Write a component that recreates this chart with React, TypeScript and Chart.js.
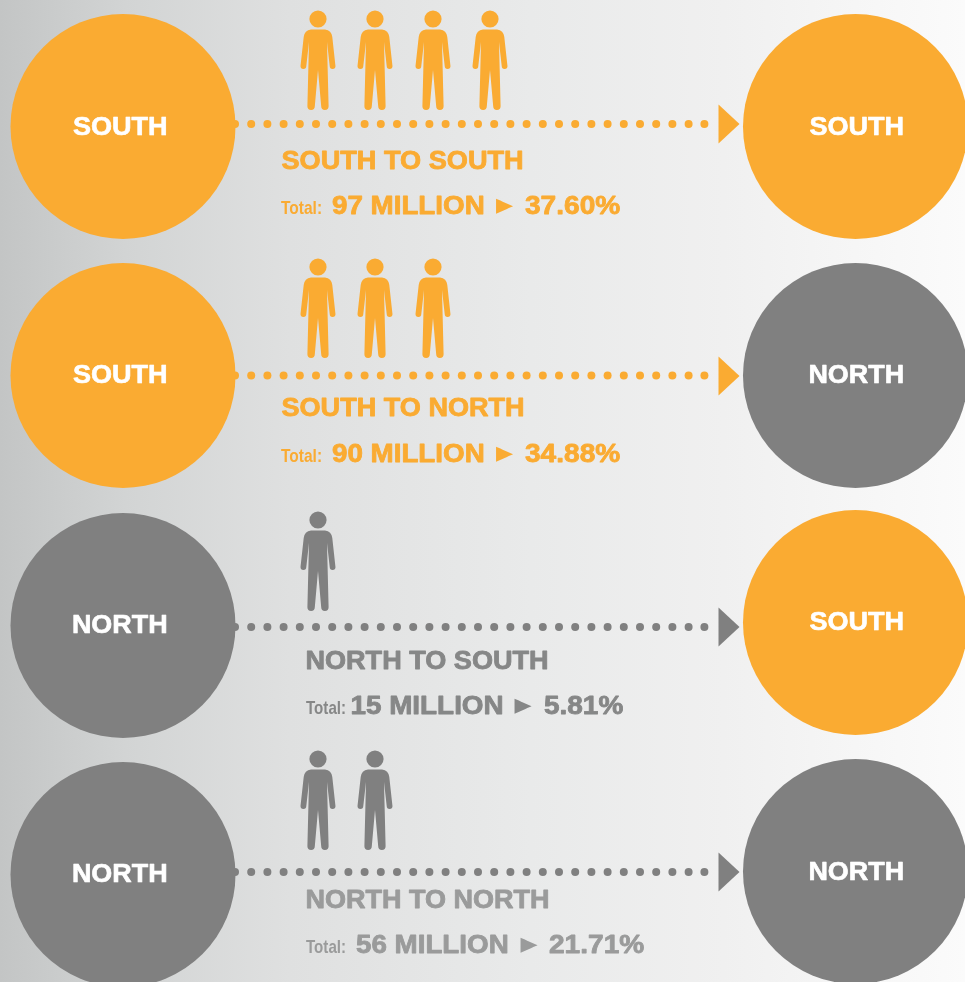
import React, { useEffect, useRef } from "react";
import { Chart, registerables } from "chart.js";

Chart.register(...registerables);

const ORANGE = "#FAAB32";
const GREY = "#808080";
const GREY_TEXT = "#868787";
const GREY_LIGHT = "#9A9B9B";

const rowRegionsFrom = ["SOUTH", "SOUTH", "NORTH", "NORTH"];
const rowRegionsTo = ["SOUTH", "NORTH", "SOUTH", "NORTH"];
const rowTitles = ["SOUTH TO SOUTH", "SOUTH TO NORTH", "NORTH TO SOUTH", "NORTH TO NORTH"];
const rowAmounts = ["97 MILLION", "90 MILLION", "15 MILLION", "56 MILLION"];
const rowShares = ["37.60%", "34.88%", "5.81%", "21.71%"];
const peopleCounts = [4, 3, 1, 2];
const totalLabel = "Total:";
const arrowGlyph = "\u25BA";

const leftCircleX = [123, 123, 123, 123];
const leftCircleY = [126.5, 375.5, 625.5, 874.5];
const rightCircleX = [855.5, 855.5, 855.5, 855.5];
const rightCircleY = [126.5, 375.5, 622.5, 871.5];
const leftLabelY = [134.5, 382.5, 632.5, 881.5];
const rightLabelY = [134.5, 382.5, 629.5, 879.5];
const dotRowY = [124, 375.5, 627, 872];
const dotX = [235, 251.2, 267.4, 283.6, 299.8, 316, 332.2, 348.4, 364.6, 380.8, 397, 413.2, 429.4, 445.6, 461.8, 478, 494.2, 510.4, 526.6, 542.8, 559, 575.2, 591.4, 607.6, 623.8, 640, 656.2, 672.4, 688.6, 704.4];
const arrowX = [729, 729, 729, 729];
const arrowY = [124, 376, 627, 872];
const personSlotX = [318, 375, 433, 490];
const personRowY = [61, 309, 562, 801];

const titleX = [281.5, 281.5, 306.5, 306.5];
const titleBase = [168.5, 415.5, 668.5, 908];
const titleW = [241, 242, 241, 242];
const totalX = [281, 281, 306, 306];
const totalW = [40, 40, 39, 39];
const amountX = [332, 332, 351.5, 356];
const amountW = [151.5, 151.5, 151, 151.5];
const arrowTextX = [496, 496, 514.5, 520.5];
const shareX = [525, 525, 544, 549];
const shareW = [95, 95, 79, 95];
const totalBase = [214, 462, 714, 953];
const textColors = [ORANGE, ORANGE, GREY_TEXT, GREY_LIGHT];

const regionColor = (r: string) => (r === "SOUTH" ? ORANGE : GREY);

function personImage(color: string) {
  const c = document.createElement("canvas");
  c.width = 40;
  c.height = 102;
  const g = c.getContext("2d")!;
  g.fillStyle = color;
  const cx = 20;
  g.beginPath();
  g.arc(cx, 9, 8.6, 0, Math.PI * 2);
  g.fill();
  g.beginPath();
  g.moveTo(cx, 19.4);
  g.lineTo(cx + 7, 19.4);
  g.quadraticCurveTo(cx + 13.5, 20, cx + 14.3, 27);
  g.lineTo(cx + 17.4, 55.5);
  g.arc(cx + 14.6, 56, 2.9, 0, Math.PI);
  g.lineTo(cx + 9, 32);
  g.lineTo(cx + 10.6, 96.2);
  g.arc(cx + 6.9, 96.2, 3.7, 0, Math.PI);
  g.lineTo(cx, 60);
  g.lineTo(cx - 3.2, 96.2);
  g.arc(cx - 6.9, 96.2, 3.7, 0, Math.PI);
  g.lineTo(cx - 9, 32);
  g.lineTo(cx - 11.7, 56);
  g.arc(cx - 14.6, 56, 2.9, 0, Math.PI);
  g.lineTo(cx - 14.3, 27);
  g.quadraticCurveTo(cx - 13.5, 20, cx - 7, 19.4);
  g.closePath();
  g.fill();
  return c;
}

function arrowImage(color: string) {
  const c = document.createElement("canvas");
  c.width = 22;
  c.height = 40;
  const g = c.getContext("2d")!;
  g.fillStyle = color;
  g.beginPath();
  g.moveTo(0.5, 0.5);
  g.lineTo(21.5, 20);
  g.lineTo(0.5, 39.5);
  g.closePath();
  g.fill();
  return c;
}

function inkText(
  ctx: CanvasRenderingContext2D,
  text: string,
  x: number,
  base: number,
  font: string,
  color: string,
  width: number,
  stroke = 0,
  sitOnBase = false
) {
  ctx.save();
  ctx.font = font;
  ctx.textAlign = "left";
  ctx.textBaseline = "alphabetic";
  const m = ctx.measureText(text);
  const ink = m.actualBoundingBoxLeft + m.actualBoundingBoxRight;
  const k = width / ink;
  const dy = sitOnBase ? -m.actualBoundingBoxDescent : 0;
  ctx.translate(x, base + dy);
  ctx.scale(k, 1);
  ctx.fillStyle = color;
  ctx.fillText(text, m.actualBoundingBoxLeft, 0);
  if (stroke > 0) {
    ctx.strokeStyle = color;
    ctx.lineWidth = stroke;
    ctx.lineJoin = "round";
    ctx.strokeText(text, m.actualBoundingBoxLeft, 0);
  }
  ctx.restore();
}

const backdrop = {
  id: "backdrop",
  beforeDraw(chart: any) {
    const { ctx, scales } = chart;
    const x0 = scales.x.getPixelForValue(0);
    const x1 = scales.x.getPixelForValue(965);
    const g = ctx.createLinearGradient(x0, 0, x1, 0);
    g.addColorStop(0, "#C3C5C5");
    g.addColorStop(0.13, "#D2D4D4");
    g.addColorStop(0.3, "#DFE0E0");
    g.addColorStop(0.55, "#E9EAEA");
    g.addColorStop(0.75, "#F0F0F0");
    g.addColorStop(1, "#FBFBFB");
    ctx.save();
    ctx.fillStyle = g;
    ctx.fillRect(0, 0, chart.width, chart.height);
    ctx.restore();
  },
};

const labels = {
  id: "labels",
  afterDatasetsDraw(chart: any) {
    const { ctx, scales } = chart;
    const px = (v: number) => scales.x.getPixelForValue(v);
    const py = (v: number) => scales.y.getPixelForValue(v);
    const SANS = '"Liberation Sans", Arial, sans-serif';
    const NARROW = '"Liberation Sans Narrow", "Liberation Sans", sans-serif';
    rowTitles.forEach((title, i) => {
      const color = textColors[i];
      inkText(ctx, rowRegionsFrom[i], px(73), py(leftLabelY[i]), `bold 25px ${SANS}`, "#FFFFFF", 93.5, 0.6);
      inkText(ctx, rowRegionsTo[i], px(809.5), py(rightLabelY[i]), `bold 25px ${SANS}`, "#FFFFFF", 93.5, 0.6);
      inkText(ctx, title, px(titleX[i]), py(titleBase[i]), `bold 25px ${SANS}`, color, titleW[i], 0.8);
      inkText(ctx, totalLabel, px(totalX[i]), py(totalBase[i]), `bold 19px ${NARROW}`, color, totalW[i]);
      inkText(ctx, rowAmounts[i], px(amountX[i]), py(totalBase[i]), `bold 25px ${SANS}`, color, amountW[i], 0.8);
      inkText(ctx, arrowGlyph, px(arrowTextX[i]), py(totalBase[i] - 0.5), `bold 30px "DejaVu Sans", sans-serif`, color, 17, 0, true);
      inkText(ctx, rowShares[i], px(shareX[i]), py(totalBase[i]), `bold 25px ${SANS}`, color, shareW[i], 0.8);
    });
  },
};

export default function App() {
  const ref = useRef<HTMLCanvasElement>(null);
  useEffect(() => {
    const orangeP = personImage(ORANGE);
    const greyP = personImage(GREY);
    const orangeA = arrowImage(ORANGE);
    const greyA = arrowImage(GREY);

    const base = { showLine: false, clip: false as any, pointBorderWidth: 0 };
    const datasets: any[] = [];
    dotRowY.forEach((y, i) => {
      datasets.push({
        ...base,
        label: rowTitles[i] + " path",
        data: dotX.map((x) => ({ x, y })),
        pointRadius: 4,
        pointBackgroundColor: regionColor(rowRegionsFrom[i]),
        order: 5,
      });
    });
    datasets.push({
      ...base,
      label: "Origin",
      data: leftCircleX.map((x, i) => ({ x, y: leftCircleY[i] })),
      pointRadius: 112.5,
      pointBackgroundColor: rowRegionsFrom.map(regionColor),
      order: 2,
    });
    datasets.push({
      ...base,
      label: "Destination",
      data: rightCircleX.map((x, i) => ({ x, y: rightCircleY[i] })),
      pointRadius: 112.5,
      pointBackgroundColor: rowRegionsTo.map(regionColor),
      order: 2,
    });
    datasets.push({
      ...base,
      label: "Arrows",
      data: arrowX.map((x, i) => ({ x, y: arrowY[i] })),
      pointStyle: rowRegionsFrom.map((r) => (r === "SOUTH" ? orangeA : greyA)),
      order: 1,
    });
    peopleCounts.forEach((count, i) => {
      datasets.push({
        ...base,
        label: rowTitles[i] + " people",
        data: personSlotX.slice(0, count).map((x) => ({ x, y: personRowY[i] })),
        pointStyle: rowRegionsFrom[i] === "SOUTH" ? orangeP : greyP,
        order: 1,
      });
    });

    const chart = new Chart(ref.current!, {
      type: "scatter",
      data: { datasets },
      options: {
        animation: false,
        responsive: false,
        layout: { padding: 0, autoPadding: false },
        events: [],
        plugins: { legend: { display: false }, tooltip: { enabled: false } },
        scales: {
          x: { type: "linear", min: 0, max: 965, display: false },
          y: { type: "linear", min: 0, max: 982, reverse: true, display: false },
        },
      },
      plugins: [backdrop, labels],
    } as any);
    return () => chart.destroy();
  }, []);
  return (
    <div style={{ position: "absolute", left: 0, top: 0, width: 965, height: 982, overflow: "hidden" }}>
      <canvas ref={ref} width={965} height={982} style={{ display: "block" }} />
    </div>
  );
}
